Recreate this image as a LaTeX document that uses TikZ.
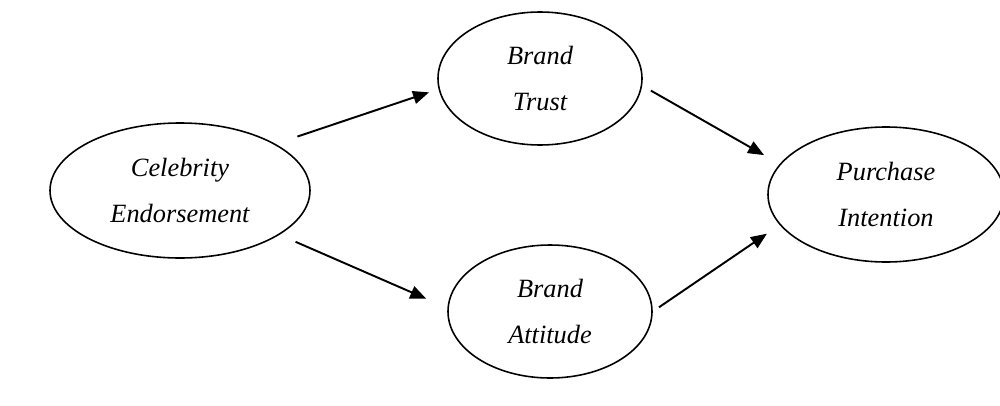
\documentclass[tikz,border=0pt]{standalone}
\usepackage{fontspec}
\setmainfont{Liberation Serif}
\usetikzlibrary{shapes.geometric,arrows.meta}

\begin{document}
\begin{tikzpicture}[
    construct/.style={ellipse, draw, line width=0.9pt, inner sep=0pt, align=center,
        font=\fontsize{15}{26.7}\selectfont\itshape},
    link/.style={-{Triangle[length=3.2mm,width=2.6mm]}, line width=1.1pt}
]
    \useasboundingbox (0,0) rectangle (20,8.1);

    % Constructs
    \node[construct, minimum width=5.2cm, minimum height=2.7cm] (ce) at (3.6,4.29) {Celebrity\\Endorsement};
    \node[construct, minimum width=4.08cm, minimum height=2.66cm] (bt) at (10.8,6.53) {Brand\\Trust};
    \node[construct, minimum width=4.08cm, minimum height=2.66cm] (ba) at (11.0,1.87) {Brand\\Attitude};
    \node[construct, minimum width=4.72cm, minimum height=2.7cm] (pi) at (17.72,4.21) {Purchase\\Intention};

    % Paths between constructs
    \draw[link, shorten <=4.6mm, shorten >=2mm] (ce.26) -- (bt.186);
    \draw[link, shorten <=3.5mm, shorten >=4.6mm] (ce.336) -- (ba.178);
    \draw[link, shorten <=2mm, shorten >=3.6mm] (bt.356) -- (pi.164.5);
    \draw[link, shorten <=1.5mm, shorten >=3.1mm] (ba.0.3) -- (pi.196.4);
\end{tikzpicture}
\end{document}
